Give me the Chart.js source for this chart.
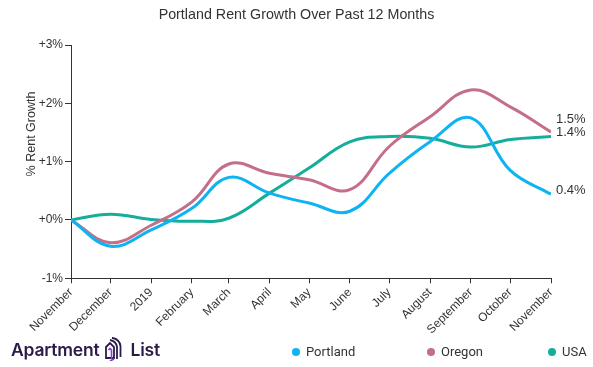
<!DOCTYPE html>
<html><head><meta charset="utf-8">
<script src="https://cdn.jsdelivr.net/npm/chart.js@4"></script>
<style>
html,body{margin:0;padding:0;background:#fff;}
#wrap{position:relative;width:593px;height:367px;overflow:hidden;background:#fff;}
#c{position:absolute;left:0;top:0;}
#title{position:absolute;left:0;width:593px;top:6px;text-align:center;font:14.3px "Liberation Sans",Arial,sans-serif;color:#333;}
.lg{position:absolute;top:344px;font:13px Roboto,sans-serif;color:#333;line-height:16px;white-space:nowrap;}
.lg i{display:inline-block;width:8px;height:8px;border-radius:50%;margin-right:6px;vertical-align:0px;}
#logo{position:absolute;left:11px;top:337px;font:600 17.5px Inter,sans-serif;color:#2b1b48;white-space:nowrap;letter-spacing:-0.2px;}
#logo svg{vertical-align:-5px;margin:0 5px 0 4px;}
</style></head>
<body>
<div id="wrap">
<canvas id="c" width="593" height="367"></canvas>
<div id="title">Portland Rent Growth Over Past 12 Months</div>
<div id="logo">Apartment<svg width="22" height="24" viewBox="0 0 22 24"><path d="M2 10 L6 6 L10 10 L10 21 L2 21 Z" fill="none" stroke="#2b1b48" stroke-width="1.8"/><path d="M4.5 13 L6 11.5 L7.5 13 L7.5 22" fill="none" stroke="#8a3ad6" stroke-width="1.6"/><path d="M6 3 Q12 4 13 10 L13 22" fill="none" stroke="#2b1b48" stroke-width="1.8"/><path d="M8 0.8 Q15.5 2 16.5 9 L16.5 20" fill="none" stroke="#2b1b48" stroke-width="1.8"/><path d="M10 22 L6 24" stroke="#8a3ad6" stroke-width="1.6"/></svg>List</div>
<div class="lg" style="left:292px"><i style="background:#0eb4f2"></i>Portland</div>
<div class="lg" style="left:427px"><i style="background:#c46e88"></i>Oregon</div>
<div class="lg" style="left:548px"><i style="background:#15ad9c"></i>USA</div>
</div>
<script>
const dates = ['2018-11-01','2018-12-01','2019-01-01','2019-02-01','2019-03-01','2019-04-01','2019-05-01','2019-06-01','2019-07-01','2019-08-01','2019-09-01','2019-10-01','2019-11-01'];
const tickLabels = ['November','December','2019','February','March','April','May','June','July','August','September','October','November'];
const portland = [0,-0.45,-0.17,0.2,0.73,0.46,0.29,0.15,0.8,1.34,1.75,0.85,0.44];
const oregon = [0,-0.39,-0.09,0.31,0.96,0.8,0.69,0.52,1.26,1.77,2.23,1.94,1.51];
const usa = [0,0.1,0.01,-0.02,0.03,0.46,0.89,1.34,1.43,1.4,1.25,1.38,1.43];
const seriesNames = ['Portland','Oregon','USA'];
const seriesColors = ['#0eb4f2','#c46e88','#15ad9c'];
const yTicks = [-1,0,1,2,3];

const t0 = Date.parse(dates[0]);
const xs = dates.map(d => (Date.parse(d) - t0) / 86400000);
const toPts = arr => arr.map((v,i) => ({x: xs[i], y: v}));

const FONT = '"Liberation Sans", Arial, sans-serif';

const endLabels = {
  id: 'endLabels',
  afterDatasetsDraw(chart) {
    const ctx = chart.ctx;
    const items = chart.data.datasets.map((ds, i) => {
      const meta = chart.getDatasetMeta(i);
      const p = meta.data[meta.data.length - 1];
      const v = ds.data[ds.data.length - 1].y;
      return {x: p.x, y: p.y - 4, text: v.toFixed(1) + '%'};
    });
    items.sort((a,b) => b.y - a.y);
    for (let i = 1; i < items.length; i++) {
      if (items[i-1].y - items[i].y < 13) items[i].y = items[i-1].y - 13;
    }
    ctx.save();
    ctx.font = '13px ' + FONT;
    ctx.fillStyle = '#333';
    ctx.textBaseline = 'middle';
    ctx.textAlign = 'left';
    items.forEach(it => ctx.fillText(it.text, it.x + 5, it.y));
    ctx.translate(32, 134);
    ctx.rotate(-Math.PI/2);
    ctx.textAlign = 'center';
    ctx.font = '12.5px ' + FONT;
    ctx.fillText('% Rent Growth', 0, 0);
    ctx.restore();
  }
};

new Chart(document.getElementById('c'), {
  type: 'line',
  data: {
    datasets: [portland, oregon, usa].map((arr, i) => ({
      label: seriesNames[i],
      data: toPts(arr),
      borderColor: seriesColors[i],
      backgroundColor: seriesColors[i],
      borderWidth: 3,
      pointRadius: 0,
      tension: 0.4,
      fill: false
    }))
  },
  options: {
    responsive: false,
    animation: false,
    events: [],
    layout: {padding: {left: 0, right: 42, top: 45, bottom: 0}},
    plugins: {legend: {display: false}, tooltip: {enabled: false}, title: {display: false}},
    scales: {
      x: {
        type: 'linear',
        min: xs[0], max: xs[xs.length-1],
        afterBuildTicks: s => { s.ticks = xs.map(v => ({value: v})); },
        afterFit: s => { s.height = 88.7; },
        grid: {drawOnChartArea: false, drawTicks: true, tickLength: 5, color: '#333'},
        border: {display: true, color: '#333', width: 1},
        ticks: {
          autoSkip: false, minRotation: 45, maxRotation: 45, padding: 2,
          color: '#333', font: {family: FONT, size: 12},
          callback: (v, i) => tickLabels[i]
        }
      },
      y: {
        min: -1, max: 3,
        afterBuildTicks: s => { s.ticks = yTicks.map(v => ({value: v})); },
        afterFit: s => { s.width = 71; },
        grid: {drawOnChartArea: false, drawTicks: true, tickLength: 6, color: '#333'},
        border: {display: true, color: '#333', width: 1},
        ticks: {
          padding: 2, color: '#333', font: {family: FONT, size: 12},
          callback: v => (v >= 0 ? '+' : '') + v + '%'
        }
      }
    }
  },
  plugins: [endLabels]
});
</script>
</body></html>
